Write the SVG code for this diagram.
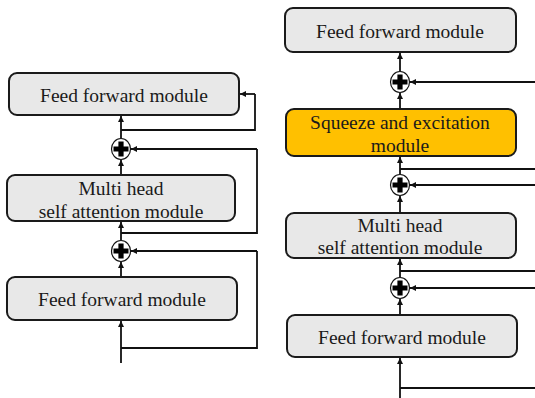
<svg xmlns="http://www.w3.org/2000/svg" width="535" height="398" viewBox="0 0 535 398">
<defs>
<marker id="arr" markerUnits="userSpaceOnUse" markerWidth="6" markerHeight="6" refX="6" refY="3" orient="auto">
<path d="M0,0 L6,3 L0,6 z" fill="#111"/>
</marker>
<g id="plus">
<ellipse cx="0" cy="0" rx="9.5" ry="10.5" fill="#fff" stroke="#111" stroke-width="1.2"/>
<path d="M-2.6,-7.5 H2.6 V-2.6 H7.5 V2.6 H2.6 V7.5 H-2.6 V2.6 H-7.5 V-2.6 H-2.6 z" fill="#000"/>
</g>
</defs>
<style>
.box{fill:#e8e8e8;stroke:#1a1a1a;stroke-width:2}
.se{fill:#ffc000;stroke:#1a1a1a;stroke-width:2}
text{font-family:'Liberation Serif','Times New Roman','DejaVu Serif',serif;font-size:19.5px;fill:#1a1a1a;text-anchor:middle;dominant-baseline:central}
.c{fill:none;stroke:#111;stroke-width:1.8}
.a{marker-end:url(#arr)}
</style>
<rect width="535" height="398" fill="#fff"/>
<g id="connectors">
<path class="c a" d="M121,363 V321"/>
<path class="c" d="M121,348 H257 V251"/>
<path class="c a" d="M257,251 H131"/>
<path class="c a" d="M121,277 V262"/>
<path class="c a" d="M121,240 V222"/>
<path class="c" d="M121,233 H257 V149"/>
<path class="c a" d="M257,149 H131"/>
<path class="c a" d="M121,175 V160"/>
<path class="c a" d="M121,138 V116"/>
<path class="c" d="M121,130 H255 V94"/>
<path class="c a" d="M255,94 H240"/>
<path class="c a" d="M400,398 V358"/>
<path class="c" d="M400,388 H535"/>
<path class="c a" d="M535,288 H410"/>
<path class="c a" d="M400,315 V299"/>
<path class="c a" d="M400,277 V259"/>
<path class="c" d="M400,271 H535"/>
<path class="c a" d="M400,213 V196"/>
<path class="c a" d="M535,185 H410"/>
<path class="c a" d="M400,174 V157"/>
<path class="c" d="M400,169 H535"/>
<path class="c a" d="M400,109 V93"/>
<path class="c a" d="M535,82 H410"/>
<path class="c a" d="M400,71 V53"/>
</g>
<g id="plusL1"><use href="#plus" x="121" y="251"/></g>
<g id="plusL2"><use href="#plus" x="121" y="149"/></g>
<g id="plusR1"><use href="#plus" x="400" y="288"/></g>
<g id="plusR2"><use href="#plus" x="400" y="185"/></g>
<g id="plusR3"><use href="#plus" x="400" y="82"/></g>
<g id="L_ff_top">
<rect class="box" x="9" y="73" width="230" height="42" rx="8"/>
<text x="124" y="95" font-family="Liberation Serif, serif">Feed forward module</text>
</g>
<g id="L_mhsa">
<rect class="box" x="7" y="175" width="228" height="46" rx="8"/>
<text x="121" y="188">Multi head</text>
<text x="121" y="211">self attention module</text>
</g>
<g id="L_ff_bottom">
<rect class="box" x="7" y="277" width="230" height="43" rx="8"/>
<text x="122" y="299">Feed forward module</text>
</g>
<g id="R_ff_top">
<rect class="box" x="285" y="8" width="231" height="44" rx="8"/>
<text x="400" y="31">Feed forward module</text>
</g>
<g id="R_se">
<rect class="se" x="286" y="109" width="230" height="47" rx="8"/>
<text x="400" y="122">Squeeze and excitation</text>
<text x="400" y="145">module</text>
</g>
<g id="R_mhsa">
<rect class="box" x="286" y="213" width="230" height="45" rx="8"/>
<text x="400" y="225">Multi head</text>
<text x="400" y="247">self attention module</text>
</g>
<g id="R_ff_bottom">
<rect class="box" x="287" y="315" width="230" height="42" rx="8"/>
<text x="402" y="337">Feed forward module</text>
</g>
</svg>
